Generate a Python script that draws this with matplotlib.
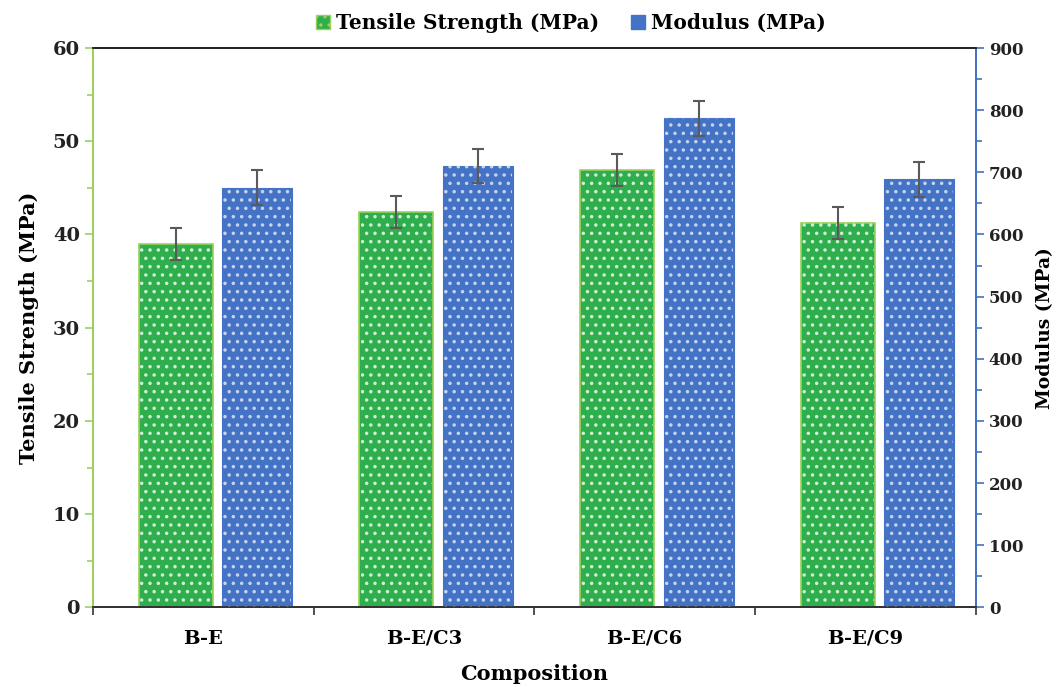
import matplotlib
matplotlib.use("Agg")
import matplotlib.pyplot as plt
import numpy as np
from matplotlib.ticker import MultipleLocator
from matplotlib.patches import Patch

categories = ["B-E", "B-E/C3", "B-E/C6", "B-E/C9"]
tensile = [39.0, 42.4, 46.9, 41.2]
tensile_err = [1.7, 1.7, 1.7, 1.7]
modulus = [675, 710, 787, 689]
modulus_err = [28, 27, 28, 28]

green = "#2fae4e"
green_edge = "#9ad15a"
blue = "#4472c4"
err_col = "#5a5a5a"

plt.rcParams["font.family"] = ["DejaVu Serif"]
plt.rcParams["font.weight"] = "bold"
plt.rcParams["hatch.linewidth"] = 1.3

fig = plt.figure(figsize=(10.57, 6.87), dpi=100)
ax = fig.add_axes([0.088, 0.116, 0.835, 0.814])
ax2 = ax.twinx()

x = np.arange(len(categories))
off_g, off_b = -0.125, 0.245
w_g, w_b = 0.335, 0.318

ax.bar(x + off_g, tensile, w_g, color=green, edgecolor=green_edge, linewidth=1.2, zorder=2)
ax.bar(x + off_g, tensile, w_g - 0.01, fill=False, hatch="..", edgecolor="#cfeed5", linewidth=0, zorder=3)
ax.errorbar(x + off_g, tensile, yerr=tensile_err, fmt="none", ecolor=err_col, elinewidth=1.5,
            capsize=4, capthick=1.5, zorder=4)

ax2.bar(x + off_b, modulus, w_b, color=blue, edgecolor=blue, linewidth=0.8, zorder=2)
ax2.bar(x + off_b, modulus, w_b - 0.01, fill=False, hatch="..", edgecolor="#c4d3f0", linewidth=0, zorder=3)
ax2.errorbar(x + off_b, modulus, yerr=modulus_err, fmt="none", ecolor=err_col, elinewidth=1.5,
             capsize=4, capthick=1.5, zorder=4)

ax.set_xlim(-0.5, 3.5)
ax.set_ylim(0, 60)
ax2.set_ylim(0, 900)

ax.set_xticks(x)
ax.set_xticklabels(categories, fontsize=14, fontweight="bold")
ax.set_xticks(np.arange(-0.5, 4.0, 1.0), minor=True)
ax.tick_params(axis="x", which="major", length=0, pad=16)
ax.tick_params(axis="x", which="minor", length=6, width=1.2, color="#333333")

ax.yaxis.set_major_locator(MultipleLocator(10))
ax.yaxis.set_minor_locator(MultipleLocator(5))
ax.tick_params(axis="y", which="both", colors=green_edge, labelcolor="#222222", labelsize=14, width=1.2)
ax.tick_params(axis="y", which="major", length=6)
ax.tick_params(axis="y", which="minor", length=4)

ax2.yaxis.set_major_locator(MultipleLocator(100))
ax2.yaxis.set_minor_locator(MultipleLocator(50))
ax2.tick_params(axis="y", which="both", colors=blue, labelcolor="#222222", labelsize=12, width=1.2)
ax2.tick_params(axis="y", which="major", length=6)
ax2.tick_params(axis="y", which="minor", length=4)
for t in ax.get_yticklabels() + ax2.get_yticklabels():
    t.set_fontweight("bold")

for a in (ax, ax2):
    a.spines["left"].set_color(green_edge)
    a.spines["right"].set_color(blue)
    a.spines["top"].set_color("#222222")
    a.spines["bottom"].set_color("#333333")
    for s in a.spines.values():
        s.set_linewidth(1.3)

ax.set_ylabel("Tensile Strength (MPa)", fontsize=15, fontweight="bold", labelpad=10)
ax2.set_ylabel("Modulus (MPa)", fontsize=13.5, fontweight="bold", labelpad=9)
ax.set_xlabel("Composition", fontsize=15, fontweight="bold", labelpad=12)

handles = [Patch(facecolor=green, edgecolor=green_edge, hatch=".."),
           Patch(facecolor=blue, edgecolor=blue, hatch="..")]
fig.legend(handles, ["Tensile Strength (MPa)", "Modulus (MPa)"], loc="upper center",
           bbox_to_anchor=(0.54, 1.008), ncol=2, frameon=False,
           handlelength=0.7, handleheight=0.7, columnspacing=1.6, handletextpad=0.3,
           prop={"weight": "bold", "size": 14.5})

fig.savefig("out.png", dpi=100)
